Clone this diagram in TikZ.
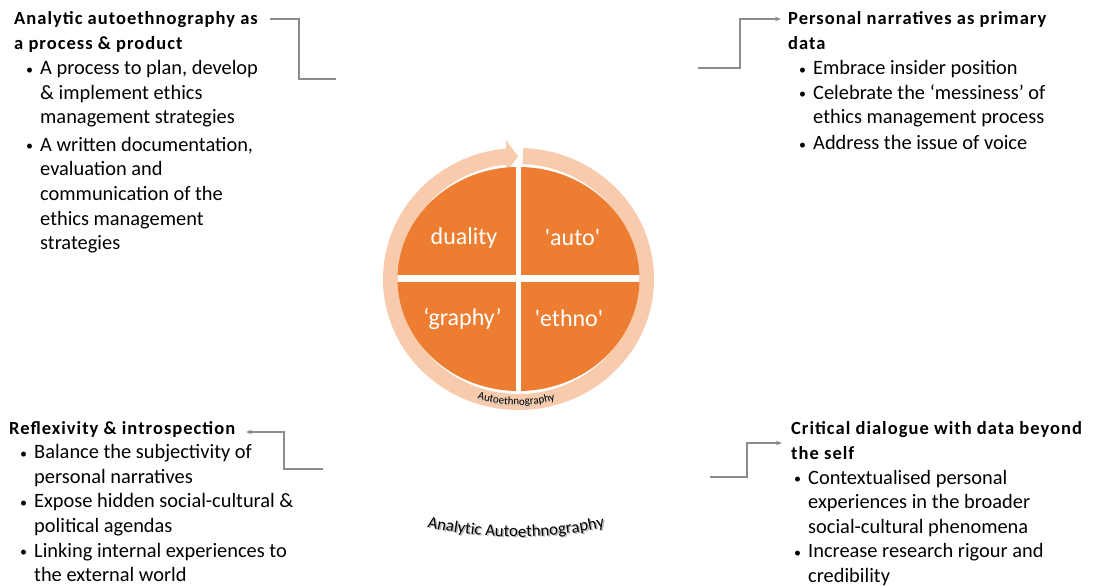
\documentclass[tikz,border=0pt]{standalone}
\usepackage{fontspec}
\setmainfont{Carlito}
\newfontfamily\headfont[LetterSpace=5.5]{Carlito}
\usetikzlibrary{arrows.meta,decorations.text}
\definecolor{pieorange}{HTML}{ED7D31}
\definecolor{ringpeach}{HTML}{F8CBAD}
\definecolor{linegray}{HTML}{8C8C8C}
\newcommand{\bodyfont}{\fontsize{20.4}{24.6}\selectfont}
\newcommand{\hd}[1]{{\headfont\bfseries\fontsize{18.5}{25}\selectfont #1\par}}
\newcommand{\bul}[3]{\par\vspace{#2}{\leftskip=#1\relax\noindent\llap{\makebox[14pt][l]{\fontsize{14}{14}\selectfont\raisebox{0.5pt}{•}}}#3\par}}
\tikzset{
  blk/.style={inner sep=0pt, anchor=base west, text=black},
  conn/.style={draw=linegray, line width=1.1pt},
  tip/.style={-{Stealth[length=6pt,width=4.5pt]}},
  qlabel/.style={text=white, font=\fontsize{24}{28}\selectfont, inner sep=0pt}
}
\begin{document}
\begin{tikzpicture}[x=1pt,y=-1pt]
\useasboundingbox (0,0) rectangle (1095,586);

% ---- central figure ----
\begin{scope}[shift={(518.5,279)}]
  \draw[ringpeach, line width=16pt] (-88:127.5 and 123) arc[start angle=-88, end angle=264.6, x radius=127.5, y radius=123];
  \fill[ringpeach] (-12.5,-139) -- (-0.5,-122.5) -- (-12.5,-106) -- cycle;
  \fill[pieorange] (0,0) ellipse [x radius=121, y radius=112];
  \begin{scope}
    \clip (0,0) ellipse [x radius=121, y radius=112];
    \fill[white] (-130,-4.5) rectangle (130,2.5);
    \fill[white] (-2.5,-130) rectangle (2.5,130);
  \end{scope}
  \path[decorate, decoration={text along path, text align=center,
     text={|\fontsize{11}{12}\selectfont\color{black!25}|Autoethnography}}]
     (112:131 and 127.5) arc[start angle=112, end angle=70, x radius=131, y radius=127.5];
  \path[decorate, decoration={text along path, text align=center,
     text={|\fontsize{11}{12}\selectfont\color{black}|Autoethnography}}]
     (112:130 and 126) arc[start angle=112, end angle=70, x radius=130, y radius=126];
\end{scope}

\node[qlabel] (duality) at (464,238) {duality};
\node[qlabel] (auto) at (572.5,237) {\textquotesingle auto\textquotesingle};
\node[qlabel] (graphy) at (462.5,319) {‘graphy’};
\node[qlabel] (ethno) at (569,318.5) {\textquotesingle ethno\textquotesingle};

% ---- curved title ----
\path[decorate, decoration={text along path, text align=center,
   text={|\fontsize{16.8}{18}\selectfont\color{black!30}|Analytic Autoethnography}}]
   (517.5,127) ++(115:411) arc[start angle=115, end angle=65, radius=411];
\path[decorate, decoration={text along path, text align=center,
   text={|\fontsize{16.8}{18}\selectfont|Analytic Autoethnography}}]
   (516,126) ++(115:411) arc[start angle=115, end angle=65, radius=411];

% ---- text blocks ----
\node[blk] (tl) at (14,25) {\begin{minipage}[t]{330pt}\raggedright\bodyfont
\hd{Analytic autoethnography as\\a process \& product}
\bul{26pt}{0pt}{A process to plan, develop\\\& implement ethics\\management strategies}
\bul{26pt}{3pt}{A written documentation,\\evaluation and\\communication of the\\ethics management\\strategies}
\end{minipage}};

\node[blk] (tr) at (788,25) {\begin{minipage}[t]{300pt}\raggedright\bodyfont
\hd{Personal narratives as primary\\data}
\bul{25pt}{0pt}{Embrace insider position}
\bul{25pt}{0pt}{Celebrate the ‘messiness’ of\\ethics management process}
\bul{25pt}{1.5pt}{Address the issue of voice}
\end{minipage}};

\node[blk] (bl) at (9,434) {\begin{minipage}[t]{330pt}\raggedright\bodyfont
\hd{Reflexivity \& introspection}
\bul{25pt}{0pt}{Balance the subjectivity of\\personal narratives}
\bul{25pt}{0pt}{Expose hidden social-cultural \&\\political agendas}
\bul{25pt}{0pt}{Linking internal experiences to\\the external world}
\end{minipage}};

\node[blk] (br) at (791,434.5) {\begin{minipage}[t]{300pt}\raggedright\bodyfont
\hd{Critical dialogue with data beyond\\the self}
\bul{17pt}{0pt}{Contextualised personal\\experiences in the broader\\social-cultural phenomena}
\bul{17pt}{0pt}{Increase research rigour and\\credibility}
\end{minipage}};

% ---- connectors ----
\coordinate (tlStart) at (336,79);
\coordinate (tlEnd) at (270,19);
\coordinate (trStart) at (698,68);
\coordinate (trEnd) at (781,19);
\coordinate (blStart) at (323,469);
\coordinate (blEnd) at (246,432);
\coordinate (brStart) at (710,477);
\coordinate (brEnd) at (782,443);

\draw[conn] (tlStart) -- ++(-37,0) |- (tlEnd);
\draw[conn, tip] (trStart) -- ++(42,0) |- (trEnd);
\draw[conn, tip] (blStart) -- ++(-39,0) |- (blEnd);
\draw[conn, tip] (brStart) -- ++(37,0) |- (brEnd);
\end{tikzpicture}
\end{document}
